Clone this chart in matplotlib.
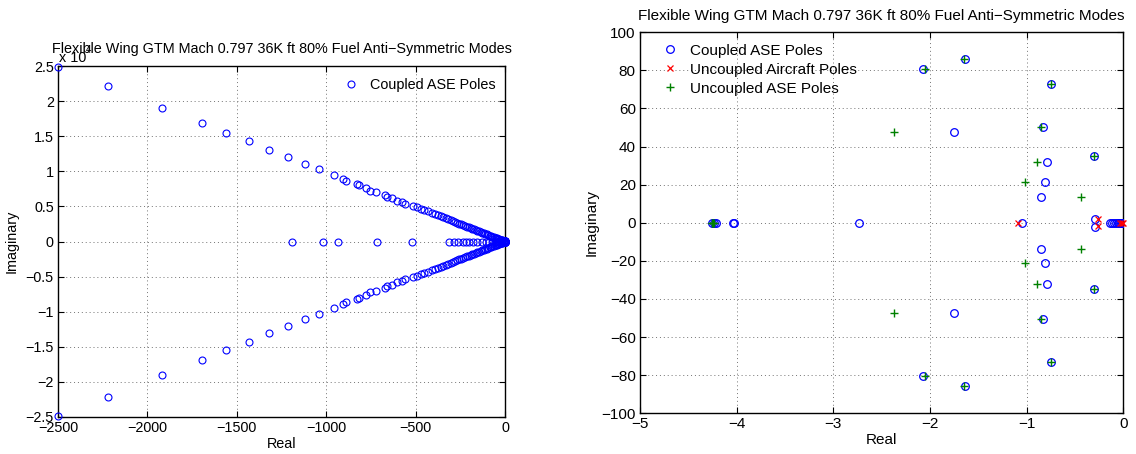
import numpy as np
import matplotlib
matplotlib.use("Agg")
import matplotlib.pyplot as plt
from matplotlib.ticker import FuncFormatter, FixedLocator

plt.rcParams['font.family'] = ['Liberation Sans', 'DejaVu Sans']
plt.rcParams['font.size'] = 10

TITLE = "Flexible Wing GTM Mach 0.797 36K ft 80% Fuel Anti\u2212Symmetric Modes"

# ---------------- Coupled ASE poles ----------------
# complex poles (upper half-plane; conjugates are drawn too)
coupled_cplx_re = [-2498, -2219, -1920, -1696, -1562, -1432, -1322, -1212, -1119, -1040,
                   -955, -904, -889, -829, -815, -777, -755, -723, -671, -658, -634, -606,
                   -578, -559, -513, -490, -470, -455, -432, -410, -392, -375, -360, -345,
                   -330, -316, -302, -290, -278, -266, -255, -244, -233, -222, -212, -202,
                   -192, -182, -172, -163, -154, -145, -136, -127, -118, -110, -102, -94,
                   -86, -78, -71, -64, -57, -50, -44, -38, -32, -27, -22, -18, -15,
                   -2.07, -1.634, -0.75, -1.75, -0.83, -0.30, -0.79, -0.81, -0.85, -0.29]
coupled_cplx_im = [24800, 22100, 19050, 16850, 15500, 14250, 13100, 12000, 11100, 10300,
                   9450, 8930, 8550, 8220, 7980, 7590, 7260, 7120, 6650, 6310, 6170, 5840,
                   5600, 5370, 4990, 4850, 4680, 4520, 4300, 4090, 3900, 3740, 3590, 3440,
                   3290, 3150, 3010, 2890, 2770, 2650, 2540, 2430, 2320, 2210, 2110, 2010,
                   1910, 1810, 1710, 1620, 1530, 1440, 1350, 1260, 1170, 1090, 1010, 930,
                   850, 770, 700, 630, 560, 490, 430, 370, 310, 260, 210, 170, 150,
                   80.6, 85.8, 73.0, 47.5, 50.3, 35.0, 31.9, 21.3, 13.6, 2.0]
# real poles
coupled_real = [-1190, -1016, -936, -718, -518, -311, -283, -261, -237, -218, -200, -177,
                -158, -130, -106, -88, -72, -58, -45, -34, -25, -17, -11, -7,
                -4.25, -4.23, -4.21, -4.04, -4.03, -2.73, -1.045,
                -0.14, -0.12, -0.10, -0.08, -0.06, -0.04, -0.02, -0.01, 0.0]

# ---------------- Uncoupled aircraft poles ----------------
aircraft_cplx_re = [-0.258]
aircraft_cplx_im = [1.8]
aircraft_real = [-1.086, -0.03, -0.01, 0.0]

# ---------------- Uncoupled ASE poles ----------------
ase_cplx_re = [-2.05, -1.65, -0.75, -2.37, -0.85, -0.30, -0.89, -1.02, -0.44]
ase_cplx_im = [80.6, 85.8, 73.0, 47.5, 50.3, 35.0, 31.9, 21.3, 13.6]
ase_real = [-4.26, -4.25, -4.24, -4.23]

left_xticks = [-2500, -2000, -1500, -1000, -500, 0]
left_yticks = [-25000, -20000, -15000, -10000, -5000, 0, 5000, 10000, 15000, 20000, 25000]
right_xticks = [-5, -4, -3, -2, -1, 0]
right_yticks = [-100, -80, -60, -40, -20, 0, 20, 40, 60, 80, 100]


def poles(cre, cim, rr):
    cre = np.asarray(cre, float); cim = np.asarray(cim, float); rr = np.asarray(rr, float)
    x = np.concatenate([cre, cre, rr])
    y = np.concatenate([cim, -cim, np.zeros_like(rr)])
    return x, y


cx, cy = poles(coupled_cplx_re, coupled_cplx_im, coupled_real)
ax_, ay_ = poles(aircraft_cplx_re, aircraft_cplx_im, aircraft_real)
sx, sy = poles(ase_cplx_re, ase_cplx_im, ase_real)


def mfmt(v):
    s = f"{v:g}"
    return s.replace('-', '\u2212')


def style(ax, fs):
    for sp in ax.spines.values():
        sp.set_linewidth(1.0)
        sp.set_color('black')
    ax.tick_params(direction='in', top=True, right=True, length=4, width=0.8,
                   labelsize=fs, pad=3, colors='black')
    ax.grid(True, linestyle=(0, (1, 3)), color='0.45', linewidth=0.7)
    ax.set_axisbelow(True)


W, H = 1136, 454
fig = plt.figure(figsize=(W / 100, H / 100), dpi=100)

# ---------------- Left axes ----------------
FL = 10.4
axL = fig.add_axes([58 / W, 1 - 417 / H, (505 - 58) / W, (417 - 66) / H])
axL.plot(cx, cy, 'o', mfc='none', mec='blue', ms=5, mew=0.8, label='Coupled ASE Poles',
         clip_on=False, zorder=3)
axL.set_xlim(-2500, 0)
axL.set_ylim(-25000, 25000)
axL.xaxis.set_major_locator(FixedLocator(left_xticks))
axL.yaxis.set_major_locator(FixedLocator(left_yticks))
axL.xaxis.set_major_formatter(FuncFormatter(lambda v, p: mfmt(v)))
axL.yaxis.set_major_formatter(FuncFormatter(lambda v, p: mfmt(v / 1e4)))
style(axL, FL)
axL.set_xlabel('Real', labelpad=1, fontsize=FL)
axL.set_ylabel('Imaginary', labelpad=5, fontsize=FL)
axL.set_title(TITLE, fontsize=FL, pad=9)
axL.legend(loc='upper right', bbox_to_anchor=(0.985, 0.975), frameon=False,
           handlelength=1.4, handletextpad=0.6, borderaxespad=0, borderpad=0.2,
           fontsize=FL)
fig.text(59 / W, 1 - 62 / H, 'x 10', fontsize=FL, ha='left', va='baseline')
fig.text(86 / W, 1 - 53 / H, '4', fontsize=7, ha='left', va='baseline')

# ---------------- Right axes ----------------
FR = 11
axR = fig.add_axes([640 / W, 1 - 413.3 / H, (1123.3 - 640) / W, (413.3 - 32.3) / H])
axR.plot(cx, cy, 'o', mfc='none', mec='blue', ms=5.5, mew=0.9, label='Coupled ASE Poles',
         zorder=3)
axR.plot(ax_, ay_, 'x', color='red', ms=4.5, mew=0.9, label='Uncoupled Aircraft Poles',
         zorder=4, clip_on=False)
axR.plot(sx, sy, '+', color='green', ms=6, mew=1.0, label='Uncoupled ASE Poles', zorder=4)
axR.set_xlim(-5, 0)
axR.set_ylim(-100, 100)
axR.xaxis.set_major_locator(FixedLocator(right_xticks))
axR.yaxis.set_major_locator(FixedLocator(right_yticks))
axR.xaxis.set_major_formatter(FuncFormatter(lambda v, p: mfmt(v)))
axR.yaxis.set_major_formatter(FuncFormatter(lambda v, p: mfmt(v)))
style(axR, FR)
axR.set_xlabel('Real', labelpad=1, fontsize=FR)
axR.set_ylabel('Imaginary', labelpad=2, fontsize=FR)
axR.set_title(TITLE, fontsize=FR, pad=9)
axR.legend(loc='upper left', bbox_to_anchor=(0.032, 0.978), frameon=False,
           handlelength=1.5, handletextpad=0.55, borderaxespad=0, borderpad=0.2,
           labelspacing=0.32, fontsize=FR)

fig.savefig('out.png', dpi=100)
